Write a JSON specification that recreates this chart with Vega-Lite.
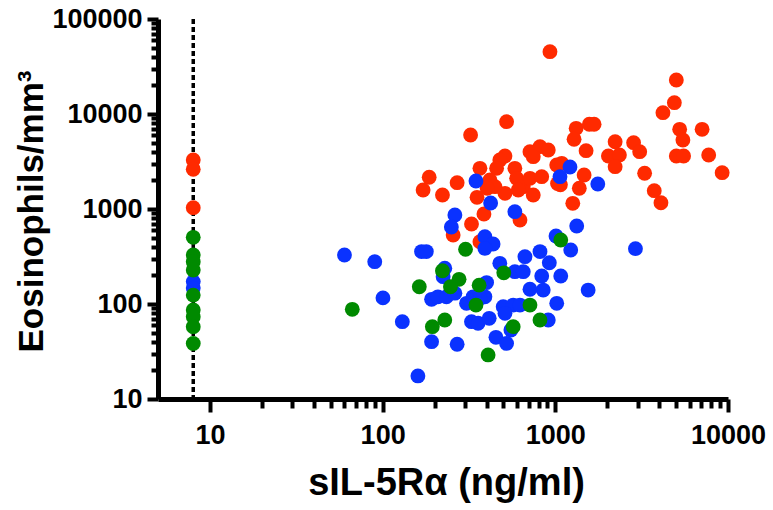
{
  "$schema": "https://vega.github.io/schema/vega-lite/v6.json",
  "width": 570,
  "height": 380,
  "autosize": {"type": "none"},
  "padding": {"left": 158, "top": 19, "right": 45, "bottom": 111},
  "background": "white",
  "config": {
    "view": {"stroke": null},
    "font": "Liberation Sans",
    "axis": {
      "domainColor": "black",
      "domainWidth": 5,
      "tickColor": "black",
      "tickWidth": 4,
      "labelFont": "Liberation Sans",
      "labelFontWeight": "bold",
      "labelFontSize": 27,
      "labelColor": "black",
      "titleFont": "Liberation Sans",
      "titleFontWeight": "bold",
      "titleColor": "black",
      "grid": false,
      "labelOverlap": false,
      "labelFlush": false
    }
  },
  "datasets": {
    "pts": [
      {"g": "r", "x": 931, "y": 45300}, {"g": "r", "x": 5020, "y": 22800}, {"g": "r", "x": 4890, "y": 13150}, {"g": "r", "x": 4200, "y": 10330},
      {"g": "r", "x": 5250, "y": 6900}, {"g": "r", "x": 5480, "y": 5320}, {"g": "r", "x": 7080, "y": 6900}, {"g": "r", "x": 5020, "y": 3610},
      {"g": "r", "x": 5530, "y": 3610}, {"g": "r", "x": 7730, "y": 3700}, {"g": "r", "x": 9250, "y": 2410}, {"g": "r", "x": 3290, "y": 2380},
      {"g": "r", "x": 3740, "y": 1560}, {"g": "r", "x": 4090, "y": 1164}, {"g": "r", "x": 2220, "y": 5100}, {"g": "r", "x": 2840, "y": 4990},
      {"g": "r", "x": 3080, "y": 4010}, {"g": "r", "x": 2030, "y": 3610}, {"g": "r", "x": 2350, "y": 3700}, {"g": "r", "x": 2220, "y": 2790},
      {"g": "r", "x": 1320, "y": 7060}, {"g": "r", "x": 1284, "y": 5420}, {"g": "r", "x": 1574, "y": 7800}, {"g": "r", "x": 1677, "y": 7800},
      {"g": "r", "x": 1507, "y": 4110}, {"g": "r", "x": 522, "y": 8300}, {"g": "r", "x": 713, "y": 4010}, {"g": "r", "x": 815, "y": 4530},
      {"g": "r", "x": 910, "y": 4180}, {"g": "r", "x": 745, "y": 3555}, {"g": "r", "x": 511, "y": 3610}, {"g": "r", "x": 477, "y": 3280},
      {"g": "r", "x": 457, "y": 2680}, {"g": "r", "x": 366, "y": 2680}, {"g": "r", "x": 583, "y": 2680}, {"g": "r", "x": 597, "y": 2105},
      {"g": "r", "x": 652, "y": 1718}, {"g": "r", "x": 610, "y": 1585}, {"g": "r", "x": 511, "y": 1463}, {"g": "r", "x": 418, "y": 2018},
      {"g": "r", "x": 447, "y": 1718}, {"g": "r", "x": 403, "y": 1652}, {"g": "r", "x": 713, "y": 2105}, {"g": "r", "x": 834, "y": 2188},
      {"g": "r", "x": 745, "y": 1403}, {"g": "r", "x": 1019, "y": 2904}, {"g": "r", "x": 1089, "y": 3027}, {"g": "r", "x": 1030, "y": 1850},
      {"g": "r", "x": 1070, "y": 1800}, {"g": "r", "x": 1468, "y": 2280}, {"g": "r", "x": 1377, "y": 1652}, {"g": "r", "x": 1262, "y": 1148},
      {"g": "r", "x": 624, "y": 766}, {"g": "r", "x": 323, "y": 6010}, {"g": "r", "x": 186, "y": 2158}, {"g": "r", "x": 171.5, "y": 1585},
      {"g": "r", "x": 222, "y": 1403}, {"g": "r", "x": 270, "y": 1892}, {"g": "r", "x": 352, "y": 1327}, {"g": "r", "x": 386, "y": 885},
      {"g": "r", "x": 327, "y": 695}, {"g": "r", "x": 256, "y": 532}, {"g": "r", "x": 366, "y": 453},
      {"g": "r", "x": 8, "y": 3280}, {"g": "r", "x": 8, "y": 2620}, {"g": "r", "x": 8, "y": 1032},
      {"g": "b", "x": 60.1, "y": 328}, {"g": "b", "x": 90, "y": 279}, {"g": "b", "x": 100.4, "y": 116}, {"g": "b", "x": 130, "y": 65.2},
      {"g": "b", "x": 160, "y": 17.5}, {"g": "b", "x": 192, "y": 40.1}, {"g": "b", "x": 270, "y": 37.7}, {"g": "b", "x": 168, "y": 356},
      {"g": "b", "x": 179, "y": 356}, {"g": "b", "x": 229, "y": 238}, {"g": "b", "x": 224, "y": 194}, {"g": "b", "x": 192, "y": 112},
      {"g": "b", "x": 209, "y": 119}, {"g": "b", "x": 234, "y": 119}, {"g": "b", "x": 262, "y": 130}, {"g": "b", "x": 306, "y": 101.6},
      {"g": "b", "x": 327, "y": 65.2}, {"g": "b", "x": 357, "y": 62.7}, {"g": "b", "x": 414, "y": 70.6}, {"g": "b", "x": 453, "y": 44.6},
      {"g": "b", "x": 522, "y": 38.5}, {"g": "b", "x": 499, "y": 93.8}, {"g": "b", "x": 570, "y": 97.5}, {"g": "b", "x": 511, "y": 79.8},
      {"g": "b", "x": 391, "y": 511}, {"g": "b", "x": 436, "y": 428}, {"g": "b", "x": 391, "y": 385}, {"g": "b", "x": 347, "y": 1972},
      {"g": "b", "x": 422, "y": 1156}, {"g": "b", "x": 583, "y": 937}, {"g": "b", "x": 262, "y": 865}, {"g": "b", "x": 250, "y": 647},
      {"g": "b", "x": 477, "y": 268}, {"g": "b", "x": 583, "y": 219}, {"g": "b", "x": 652, "y": 219}, {"g": "b", "x": 667, "y": 315},
      {"g": "b", "x": 815, "y": 356}, {"g": "b", "x": 400, "y": 168}, {"g": "b", "x": 391, "y": 119}, {"g": "b", "x": 713, "y": 143},
      {"g": "b", "x": 851, "y": 140}, {"g": "b", "x": 834, "y": 197}, {"g": "b", "x": 1075, "y": 197}, {"g": "b", "x": 553, "y": 53.3},
      {"g": "b", "x": 1009, "y": 520}, {"g": "b", "x": 923, "y": 272}, {"g": "b", "x": 1228, "y": 370}, {"g": "b", "x": 1330, "y": 662},
      {"g": "b", "x": 1216, "y": 2767}, {"g": "b", "x": 1064, "y": 2188}, {"g": "b", "x": 1762, "y": 1833}, {"g": "b", "x": 2911, "y": 382},
      {"g": "b", "x": 1549, "y": 140}, {"g": "b", "x": 1019, "y": 101.6}, {"g": "b", "x": 910, "y": 67.9}, {"g": "b", "x": 624, "y": 97.5},
      {"g": "b", "x": 334, "y": 119}, {"g": "b", "x": 366, "y": 115},
      {"g": "b", "x": 8, "y": 172}, {"g": "b", "x": 8, "y": 147},
      {"g": "g", "x": 66.7, "y": 87.9}, {"g": "g", "x": 163, "y": 152}, {"g": "g", "x": 222, "y": 224}, {"g": "g", "x": 277, "y": 182},
      {"g": "g", "x": 247, "y": 152}, {"g": "g", "x": 302, "y": 377}, {"g": "g", "x": 362, "y": 158}, {"g": "g", "x": 347, "y": 97.5},
      {"g": "g", "x": 229, "y": 67.9}, {"g": "g", "x": 194, "y": 57.7}, {"g": "g", "x": 408, "y": 29.1}, {"g": "g", "x": 503, "y": 213},
      {"g": "g", "x": 570, "y": 57.7}, {"g": "g", "x": 713, "y": 97.5}, {"g": "g", "x": 815, "y": 67.9}, {"g": "g", "x": 1075, "y": 472},
      {"g": "g", "x": 8, "y": 503}, {"g": "g", "x": 8, "y": 328}, {"g": "g", "x": 8, "y": 279}, {"g": "g", "x": 8, "y": 228},
      {"g": "g", "x": 8, "y": 124}, {"g": "g", "x": 8, "y": 86.5}, {"g": "g", "x": 8, "y": 73.4}, {"g": "g", "x": 8, "y": 57.7},
      {"g": "g", "x": 8, "y": 38.5}
    ],
    "lod": [{"x": 8}]
  },
  "encoding": {
    "x": {
      "field": "x",
      "type": "quantitative",
      "scale": {"type": "log", "domain": [5, 10000], "nice": false},
      "axis": {
        "values": [10, 20, 30, 40, 50, 60, 70, 80, 90, 100, 200, 300, 400, 500, 600, 700, 800, 900, 1000, 2000, 3000, 4000, 5000, 6000, 7000, 8000, 9000, 10000],
        "labelExpr": "indexof([10,100,1000,10000], datum.value) >= 0 ? datum.value + '' : ''",
        "tickSize": {"condition": {"test": "indexof([10,100,1000,10000], datum.value) >= 0", "value": 13}, "value": 9},
        "labelPadding": 10,
        "title": "sIL-5Rα (ng/ml)",
        "titleFontSize": 38,
        "titleX": 288,
        "titleY": 95,
        "titleBaseline": "alphabetic",
        "titleAlign": "center"
      }
    }
  },
  "layer": [
    {
      "data": {"name": "lod"},
      "mark": {"type": "rule", "strokeDash": [5, 3], "strokeWidth": 3.5, "color": "black"},
      "encoding": {}
    },
    {
      "data": {"name": "pts"},
      "mark": {"type": "circle", "size": 220, "opacity": 1},
      "encoding": {
        "y": {
          "field": "y",
          "type": "quantitative",
          "scale": {"type": "log", "domain": [10, 100000], "nice": false},
          "axis": {
            "values": [10, 20, 30, 40, 50, 60, 70, 80, 90, 100, 200, 300, 400, 500, 600, 700, 800, 900, 1000, 2000, 3000, 4000, 5000, 6000, 7000, 8000, 9000, 10000, 20000, 30000, 40000, 50000, 60000, 70000, 80000, 90000, 100000],
            "labelExpr": "indexof([10,100,1000,10000,100000], datum.value) >= 0 ? datum.value + '' : ''",
            "tickSize": {"condition": {"test": "indexof([10,100,1000,10000,100000], datum.value) >= 0", "value": 11}, "value": 7},
            "labelPadding": 5,
            "title": "Eosinophils/mm³",
            "titleFontSize": 35,
            "titleX": -116,
            "titleY": 192,
            "titleBaseline": "alphabetic",
            "titleAlign": "center"
          }
        },
        "color": {
          "field": "g",
          "type": "nominal",
          "scale": {"domain": ["r", "b", "g"], "range": ["#ff2a00", "#0a32ff", "#008a00"]},
          "legend": null
        }
      }
    }
  ]
}
